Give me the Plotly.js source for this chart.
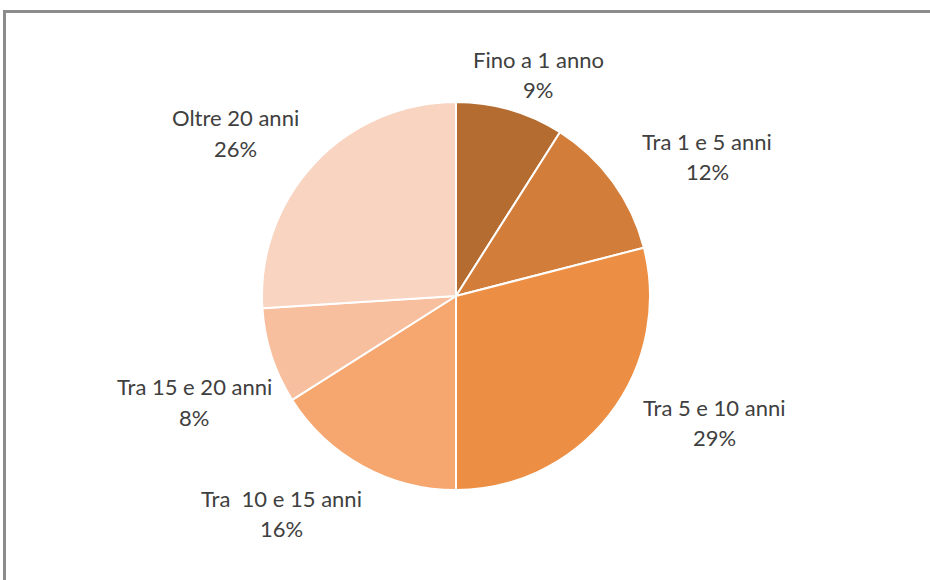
<!DOCTYPE html>
<html>
<head>
<meta charset="utf-8">
<script src="https://cdn.plot.ly/plotly-3.0.1.min.js"></script>
<style>
  html, body { margin: 0; padding: 0; background: #ffffff; overflow: hidden; }
  #chart { position: absolute; left: 0; top: 0; width: 930px; height: 580px; }
  #frame { position: absolute; left: 3px; top: 10px; width: 1000px; height: 1000px;
           border: 3px solid #8c8c8c; pointer-events: none; box-sizing: border-box; }
</style>
</head>
<body>
<div id="chart"></div>
<div id="frame"></div>
<script>
// Data
const categories = ["Fino a 1 anno", "Tra 1 e 5 anni", "Tra 5 e 10 anni", "Tra  10 e 15 anni", "Tra 15 e 20 anni", "Oltre 20 anni"];
const values = [9, 12, 29, 16, 8, 26];
const sliceColors = ["#B46C31", "#D37D3A", "#EC8F45", "#F6A66F", "#F8BF9E", "#F9D4C1"];

// Label placement (pixel centres of name line; percent line sits 30px lower)
const labelPos = [[538, 59], [707, 141], [714, 407], [281, 498], [194, 387], [235, 118]];

const W = 930, H = 580;
const cx = 456, cy = 296, r = 194;

const total = values.reduce((a, b) => a + b, 0);
const annotations = [];
categories.forEach((c, i) => {
  const [px, py] = labelPos[i];
  const pct = Math.round(values[i] / total * 100) + "%";
  const name = c.replace(/  /g, "\u00a0 ");
  [[name, py], [pct, py + 30]].forEach(([t, yy]) => {
    annotations.push({
      x: px / W, y: 1 - yy / H, xref: "paper", yref: "paper",
      xanchor: "center", yanchor: "middle", showarrow: false,
      text: t, font: { family: "Lato, 'Noto Sans', sans-serif", size: 22, color: "#404040" }
    });
  });
});

const trace = {
  type: "pie",
  labels: categories,
  values: values,
  sort: false,
  direction: "clockwise",
  rotation: 0,
  textinfo: "none",
  hoverinfo: "label+percent",
  marker: { colors: sliceColors, line: { color: "#ffffff", width: 2 } },
  domain: { x: [(cx - r) / W, (cx + r) / W], y: [1 - (cy + r) / H, 1 - (cy - r) / H] },
  showlegend: false
};

const layout = {
  width: W, height: H,
  margin: { l: 0, r: 0, t: 0, b: 0 },
  paper_bgcolor: "#ffffff",
  showlegend: false,
  annotations: annotations
};

Plotly.newPlot("chart", [trace], layout, { displayModeBar: false, staticPlot: true });
</script>
</body>
</html>
